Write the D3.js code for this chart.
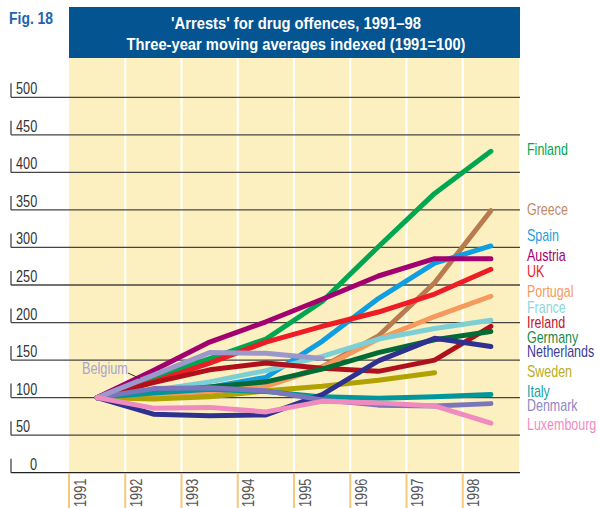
<!DOCTYPE html>
<html>
<head>
<meta charset="utf-8">
<script src="https://cdnjs.cloudflare.com/ajax/libs/d3/7.8.5/d3.min.js"></script>
<style>
  body { margin: 0; background: #fff; }
  svg text { font-family: "Liberation Sans", Arial, sans-serif; }
</style>
</head>
<body>
<script>
// years on the x axis
var years = [1991, 1992, 1993, 1994, 1995, 1996, 1997, 1998];
var yTicks = [0, 50, 100, 150, 200, 250, 300, 350, 400, 450, 500];

// index values (1991 = 100)
var finland     = [100, 127, 152, 178, 228, 301, 372, 428];
var greece      = [100, 103, 107, 116, 141, 182, 253, 349];
var spain       = [100, 106, 114, 127, 175, 232, 279, 302];
var austria     = [100, 136, 174, 201, 231, 262, 285, 285];
var uk          = [100, 121, 146, 174, 195, 214, 238, 271];
var portugal    = [100, 103, 108, 115, 140, 178, 208, 235];
var france      = [100, 110, 121, 136, 155, 178, 192, 203];
var ireland     = [100, 120, 137, 146, 139, 135, 150, 195];
var germany     = [100, 107, 114, 121, 138, 160, 177, 188];
var sweden      = [100, 98, 101, 109, 115, 123, 133];
var italy       = [100, 106, 111, 108, 101, 99, 101, 104];
var netherlands = [100, 78, 76, 77, 104, 149, 179, 168];
var denmark     = [100, 112, 113, 109, 97, 90, 89, 92];
var belgium     = [100, 130, 160, 159, 152];
var luxembourg  = [100, 86, 87, 81, 95, 93, 89, 66];

var series = [
  {name: "Finland",     values: finland,     color: "#00a650", label: "#00a650", ly: 155},
  {name: "Greece",      values: greece,      color: "#b97a4e", label: "#c08a64", ly: 215},
  {name: "Spain",       values: spain,       color: "#0f9ee0", label: "#1ba0e0", ly: 241},
  {name: "Austria",     values: austria,     color: "#a3006f", label: "#a3006f", ly: 261},
  {name: "UK",          values: uk,          color: "#ee1c25", label: "#ee1c25", ly: 277},
  {name: "Portugal",    values: portugal,    color: "#f6995c", label: "#f6995c", ly: 297},
  {name: "France",      values: france,      color: "#7dcfd6", label: "#8ed6dc", ly: 313},
  {name: "Ireland",     values: ireland,     color: "#b0101b", label: "#c0142a", ly: 328},
  {name: "Germany",     values: germany,     color: "#006b35", label: "#198a48", ly: 343},
  {name: "Sweden",      values: sweden,      color: "#b0a200", label: "#b9ad20", ly: 377},
  {name: "Italy",       values: italy,       color: "#00979c", label: "#16a3a8", ly: 397},
  {name: "Netherlands", values: netherlands, color: "#2e3190", label: "#3a3d96", ly: 357},
  {name: "Denmark",     values: denmark,     color: "#7b76bb", label: "#8d89c4", ly: 411},
  {name: "Belgium",     values: belgium,     color: "#9d98cc", label: null},
  {name: "Luxembourg",  values: luxembourg,  color: "#f08bbf", label: "#f08bbf", ly: 430}
];

var NARROW = 0.78; // squeeze the text to look like the condensed face of the original

var svg = d3.select("body").append("svg")
    .attr("width", 598)
    .attr("height", 508);

var x = d3.scaleBand().domain(years).range([69, 519]);
var y = d3.scaleLinear().domain([0, 500]).range([472.7, 97.3]);
var cx = function(i) { return x(years[i]) + x.bandwidth() / 2; };

function narrowAt(px, py, rot, k) {
  return "translate(" + px + "," + py + ")" + (rot ? " rotate(" + rot + ")" : "") + " scale(" + (k || NARROW) + ",1)";
}

// yellow plot background and column separators
svg.append("rect")
    .attr("x", 69).attr("y", 58)
    .attr("width", 450).attr("height", y(0) - 58)
    .attr("fill", "#fdf0c0");

svg.selectAll(".sep").data(years.slice(1)).enter().append("line")
    .attr("x1", function(d) { return x(d); })
    .attr("x2", function(d) { return x(d); })
    .attr("y1", 58).attr("y2", y(0))
    .attr("stroke", "#fff").attr("stroke-width", 2);

// horizontal grid lines with the little tick + label
var grid = svg.selectAll(".grid").data(yTicks).enter().append("g");
grid.append("line")
    .attr("x1", 11).attr("x2", 520)
    .attr("y1", function(d) { return y(d); })
    .attr("y2", function(d) { return y(d); })
    .attr("stroke", function(d) { return d === 0 ? "#222" : "#444"; })
    .attr("stroke-width", 1.3);
grid.append("line")
    .attr("x1", 11).attr("x2", 11)
    .attr("y1", function(d) { return y(d); })
    .attr("y2", function(d) { return y(d) - 14; })
    .attr("stroke", "#444").attr("stroke-width", 1.3);
grid.append("text")
    .attr("transform", function(d) { return narrowAt(d === 0 ? 30 : 16, y(d) - 3); })
    .attr("font-size", 16.3)
    .attr("fill", "#333")
    .text(function(d) { return d; });

// year ticks under the axis
var yr = svg.selectAll(".yr").data(years).enter().append("g");
yr.append("line")
    .attr("x1", function(d) { return x(d); })
    .attr("x2", function(d) { return x(d); })
    .attr("y1", y(0) + 1).attr("y2", 508)
    .attr("stroke", "#f7c77a").attr("stroke-width", 2);
yr.append("text")
    .attr("transform", function(d) { return narrowAt(x(d) + 16.5, 507, -90); })
    .attr("font-size", 16.3)
    .attr("fill", "#555")
    .text(function(d) { return d; });

// series lines
var line = d3.line()
    .x(function(d, i) { return cx(i); })
    .y(function(d) { return y(d); });

svg.selectAll(".series").data(series).enter().append("path")
    .attr("d", function(d) { return line(d.values); })
    .attr("fill", "none")
    .attr("stroke", function(d) { return d.color; })
    .attr("stroke-width", 5)
    .attr("stroke-linecap", "round")
    .attr("stroke-linejoin", "round");

// labels at the right
svg.selectAll(".lab").data(series.filter(function(d) { return d.label; })).enter().append("text")
    .attr("transform", function(d) { return narrowAt(527, d.ly); })
    .attr("font-size", 16)
    .attr("fill", function(d) { return d.label; })
    .text(function(d) { return d.name; });

// Belgium callout
svg.append("text")
    .attr("transform", narrowAt(82, 374))
    .attr("font-size", 16.3)
    .attr("fill", "#a8a4cc")
    .text("Belgium");
svg.append("line")
    .attr("x1", 128).attr("y1", 373)
    .attr("x2", 140).attr("y2", 378.5)
    .attr("stroke", "#333").attr("stroke-width", 1);

// title block
svg.append("rect")
    .attr("x", 69).attr("y", 7)
    .attr("width", 451).attr("height", 51)
    .attr("fill", "#045491");
svg.append("text")
    .attr("transform", narrowAt(9, 24, 0, 0.82))
    .attr("font-size", 17).attr("font-weight", "bold")
    .attr("fill", "#1a64b0")
    .text("Fig. 18");
svg.append("text")
    .attr("x", 296).attr("y", 29)
    .attr("text-anchor", "middle")
    .attr("font-size", 16.5).attr("font-weight", "bold")
    .attr("fill", "#fff")
    .attr("textLength", 250).attr("lengthAdjust", "spacingAndGlyphs")
    .text("'Arrests' for drug offences, 1991\u201398");
svg.append("text")
    .attr("x", 296).attr("y", 50)
    .attr("text-anchor", "middle")
    .attr("font-size", 16.5).attr("font-weight", "bold")
    .attr("fill", "#fff")
    .attr("textLength", 339).attr("lengthAdjust", "spacingAndGlyphs")
    .text("Three-year moving averages indexed (1991=100)");
</script>
</body>
</html>
